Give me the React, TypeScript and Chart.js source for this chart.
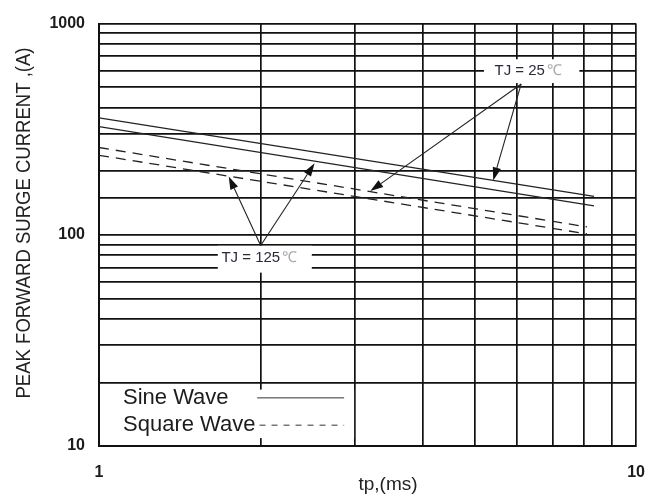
import React, { useEffect, useRef } from "react";
import { Chart, registerables } from "chart.js";

Chart.register(...registerables);

// ---- data ----
const sineX = [1, 8.35];
const sineTj25 = [358, 152];
const sineTj125 = [325, 137];
const squareX = [1, 8.1];
const squareTj25 = [259, 109];
const squareTj125 = [238, 101];

const xGridTicks = [1, 2, 3, 4, 5, 6, 7, 8, 9, 10];
const yTickLabels = [10, 100, 1000];
const xTickLabels = [1, 10];

const xTitle = "tp,(ms)";
const yTitle = "PEAK FORWARD SURGE CURRENT ,(A)";
const legendLabels = ["Sine Wave", "Square Wave"];
const tj25Text = "TJ = 25";
const tj125Text = "TJ = 125";
const degText = "\u2103";

const FONT = "'Liberation Sans', Arial, Helvetica, sans-serif";
const INK = "#1c1c1c";

const toPoints = (xs: number[], ys: number[]) => xs.map((x, i) => ({ x, y: ys[i] }));

function drawArrow(ctx: CanvasRenderingContext2D, x0: number, y0: number, x1: number, y1: number) {
  const ang = Math.atan2(y1 - y0, x1 - x0);
  const len = 13;
  const hw = 4.2;
  const bx = x1 - len * Math.cos(ang);
  const by = y1 - len * Math.sin(ang);
  ctx.beginPath();
  ctx.moveTo(x0, y0);
  ctx.lineTo(bx, by);
  ctx.stroke();
  ctx.beginPath();
  ctx.moveTo(x1, y1);
  ctx.lineTo(bx + hw * Math.sin(ang), by - hw * Math.cos(ang));
  ctx.lineTo(bx - hw * Math.sin(ang), by + hw * Math.cos(ang));
  ctx.closePath();
  ctx.fill();
}

const annotationPlugin = {
  id: "annotations",
  beforeDatasetsDraw(chart: any) {
    const { ctx, scales } = chart;
    const px = (v: number) => scales.x.getPixelForValue(v);
    const py = (v: number) => scales.y.getPixelForValue(v);
    ctx.save();
    ctx.fillStyle = "#ffffff";
    const box = (x0: number, x1: number, y0: number, y1: number) => {
      ctx.fillRect(px(x0), py(y0), px(x1) - px(x0), py(y1) - py(y0));
    };
    // label backgrounds
    box(1.664, 2.49, 88.7, 66.2);
    box(5.21, 7.84, 678, 523);
    // legend background
    const l = chart.chartArea.left + 1.5;
    ctx.fillRect(l, py(18.5), px(2.985) - l, py(10.9) - py(18.5));
    ctx.restore();
  },
  afterDatasetsDraw(chart: any) {
    const { ctx, scales, chartArea } = chart;
    const px = (v: number) => scales.x.getPixelForValue(v);
    const py = (v: number) => scales.y.getPixelForValue(v);
    ctx.save();
    ctx.strokeStyle = "#222";
    ctx.fillStyle = "#111";
    ctx.lineWidth = 1.1;
    // TJ = 125 arrows
    drawArrow(ctx, px(2.0), py(89), px(1.744), py(189));
    drawArrow(ctx, px(2.0), py(89), px(2.52), py(218));
    // TJ = 25 arrows
    drawArrow(ctx, px(6.11), py(518), px(3.2), py(161));
    drawArrow(ctx, px(6.11), py(518), px(5.42), py(181));

    // labels
    ctx.font = `15px ${FONT}`;
    ctx.textBaseline = "middle";
    ctx.textAlign = "left";
    const label = (t: string, x: number, y: number) => {
      ctx.fillStyle = "#2a2a3a";
      ctx.fillText(t, x, y);
      const w = ctx.measureText(t).width;
      ctx.fillStyle = "#a8a8a8";
      ctx.fillText(" " + degText, x + w - 2, y);
    };
    label(tj125Text, px(1.69), py(78));
    label(tj25Text, px(5.45), py(600));

    // legend
    const lx = chartArea.left + 24;
    ctx.font = `22px ${FONT}`;
    ctx.fillStyle = INK;
    ctx.fillText(legendLabels[0], lx, py(16.9));
    ctx.fillText(legendLabels[1], lx, py(12.6));
    ctx.strokeStyle = "#333";
    ctx.lineWidth = 1;
    ctx.beginPath();
    ctx.moveTo(px(1.97), py(16.9));
    ctx.lineTo(px(2.86), py(16.9));
    ctx.stroke();
    ctx.setLineDash([6, 6]);
    ctx.beginPath();
    ctx.moveTo(px(1.99), py(12.55));
    ctx.lineTo(px(2.86), py(12.55));
    ctx.stroke();
    ctx.setLineDash([]);

    // x title
    ctx.font = `19px ${FONT}`;
    ctx.fillStyle = "#222";
    ctx.textAlign = "center";
    ctx.fillText(xTitle, 388, 485);

    // y title (rotated)
    ctx.font = `21px ${FONT}`;
    const tw = ctx.measureText(yTitle).width;
    const targetLen = 351;
    ctx.translate(24, 223);
    ctx.rotate(-Math.PI / 2);
    ctx.scale(targetLen / tw, 1);
    ctx.fillStyle = "#222";
    ctx.textAlign = "center";
    ctx.fillText(yTitle, 0, 0);
    ctx.restore();
  },
};

export default function App() {
  const ref = useRef<HTMLCanvasElement | null>(null);

  useEffect(() => {
    if (!ref.current) return;
    const gridCommon = {
      color: "#111",
      lineWidth: 1.7,
      drawTicks: false,
    };
    const chart = new Chart(ref.current, {
      type: "line",
      data: {
        datasets: [
          { label: "Sine TJ=25", data: toPoints(sineX, sineTj25), borderColor: "#222", borderWidth: 1.3, pointRadius: 0 },
          { label: "Sine TJ=125", data: toPoints(sineX, sineTj125), borderColor: "#222", borderWidth: 1.3, pointRadius: 0 },
          { label: "Square TJ=25", data: toPoints(squareX, squareTj25), borderColor: "#222", borderWidth: 1.3, borderDash: [10, 7], pointRadius: 0 },
          { label: "Square TJ=125", data: toPoints(squareX, squareTj125), borderColor: "#222", borderWidth: 1.3, borderDash: [10, 7], pointRadius: 0 },
        ],
      },
      options: {
        responsive: false,
        animation: false,
        devicePixelRatio: 1,
        layout: { padding: { left: 0, right: 25, top: 20, bottom: 0 } },
        plugins: { legend: { display: false }, tooltip: { enabled: false } },
        scales: {
          x: {
            type: "logarithmic",
            min: 1,
            max: 10,
            grid: gridCommon,
            border: { color: "#111", width: 2 },
            afterBuildTicks: (s: any) => {
              s.ticks = xGridTicks.map((v) => ({ value: v }));
            },
            ticks: {
              autoSkip: false,
              maxRotation: 0,
              padding: 17,
              color: INK,
              font: { family: FONT, size: 16, weight: "bold" },
              callback: (v: any) => (xTickLabels.includes(Number(v)) ? String(v) : ""),
            },
            afterFit: (s: any) => {
              s.height = 52;
            },
          },
          y: {
            type: "logarithmic",
            min: 10,
            max: 1000,
            grid: gridCommon,
            border: { color: "#111", width: 2 },
            ticks: {
              autoSkip: false,
              padding: 14,
              color: INK,
              font: { family: FONT, size: 16, weight: "bold" },
              callback: (v: any) => (yTickLabels.includes(Number(v)) ? String(v) : ""),
            },
            afterFit: (s: any) => {
              s.width = 99;
            },
          },
        },
      } as any,
      plugins: [annotationPlugin],
    });
    return () => chart.destroy();
  }, []);

  return (
    <div style={{ position: "absolute", left: 0, top: 0, width: 662, height: 498, background: "#fff" }}>
      <canvas ref={ref} width={662} height={498} style={{ width: 662, height: 498, display: "block" }} />
    </div>
  );
}
